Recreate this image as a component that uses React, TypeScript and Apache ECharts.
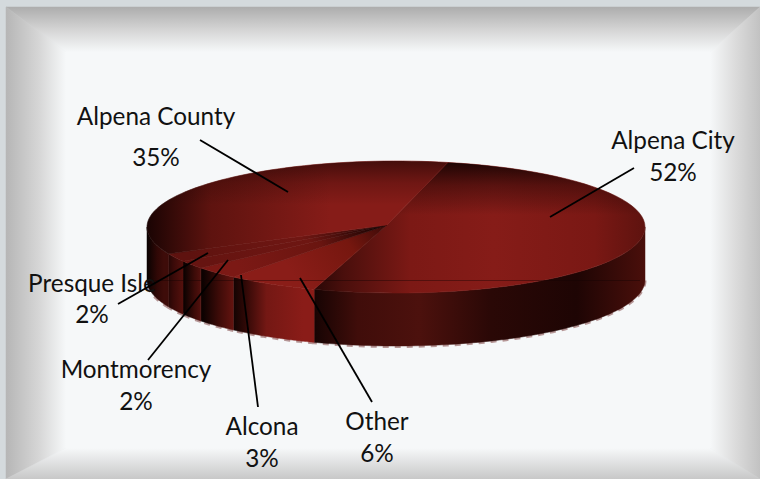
import React, { useEffect, useRef } from "react";
import * as echarts from "echarts";

const sliceNames = ["Alpena City", "Other", "Alcona", "Montmorency", "Presque Isle", "Alpena County"];
const sliceValues = [52, 6, 3, 2, 2, 35];

const CX = 396, CY = 227, RX = 249, RY = 66, DEPTH = 53, START = 12;
const rad = (d: number) => (d * Math.PI) / 180;
const px = (d: number) => CX + RX * Math.sin(rad(d));
const py = (d: number) => CY - RY * Math.cos(rad(d));
const PCX = 387, PCY = 225;

const labelLayout = [
  { x: 673, y: 155, lh: 32, from: [634, 168], to: [550, 217] },
  { x: 377, y: 436, lh: 32, from: [372, 402], to: [300, 278] },
  { x: 262, y: 441, lh: 32, from: [258, 407], to: [241, 275] },
  { x: 136, y: 384, lh: 32, from: [148, 360], to: [228, 260] },
  { x: 92, y: 298, lh: 31, from: [118, 304], to: [208, 253] },
  { x: 156, y: 136, lh: 41, from: [200, 140], to: [288, 192] },
];

const grad = (x: number, y: number, x2: number, y2: number, stops: [number, string][]) =>
  new echarts.graphic.LinearGradient(x, y, x2, y2, stops.map(([offset, color]) => ({ offset, color })), true);

const topFills = [
  () => grad(310, 0, 645, 0, [[0, "#240605"], [0.1, "#4a0f0c"], [0.3, "#7c1915"], [0.55, "#861c18"], [0.85, "#7a1814"], [1, "#5e130f"]]),
  () => grad(387, 225, 300, 285, [[0, "#3a0a08"], [0.4, "#76170f"], [1, "#8a1d18"]]),
  () => grad(375, 228, 240, 275, [[0, "#1c0403"], [0.4, "#6a1510"], [1, "#7c1915"]]),
  () => grad(375, 228, 210, 262, [[0, "#1c0403"], [0.4, "#6e1612"], [1, "#661411"]]),
  () => grad(375, 228, 190, 258, [[0, "#2a0705"], [0.4, "#701713"], [1, "#5e120f"]]),
  () => grad(147, 0, 330, 0, [[0, "#1a0403"], [0.35, "#5e130f"], [1, "#861c18"]]),
];

const shadeOverlay = [
  () => grad(0, 161, 0, 215, [[0, "rgba(15,2,1,0.9)"], [0.45, "rgba(20,3,2,0.4)"], [1, "rgba(20,3,2,0)"]]),
  null,
  null,
  null,
  null,
  () => grad(0, 161, 0, 205, [[0, "rgba(15,2,1,0.55)"], [0.5, "rgba(20,3,2,0.2)"], [1, "rgba(20,3,2,0)"]]),
];

const sideFills = [
  () => grad(303, 0, 645, 0, [[0, "#0a0201"], [0.05, "#1c0504"], [0.16, "#400d0a"], [0.34, "#4c110d"], [0.55, "#2a0806"], [0.8, "#1e0504"], [1, "#4a0f0b"]]),
  () => grad(230, 0, 303, 0, [[0, "#0a0201"], [0.2, "#2e0806"], [0.5, "#741814"], [1, "#8a1c18"]]),
  () => grad(203, 0, 234, 0, [[0, "#0c0201"], [0.5, "#3c0b08"], [1, "#651410"]]),
  () => grad(184, 0, 205, 0, [[0, "#0c0201"], [0.5, "#3c0b08"], [1, "#621411"]]),
  () => grad(162, 0, 185, 0, [[0, "#0c0201"], [0.5, "#3a0a08"], [1, "#5a120e"]]),
  () => grad(147, 0, 164, 0, [[0, "#090201"], [0.6, "#300806"], [1, "#3e0c09"]]),
];

const renderSlice = (params: any, api: any) => {
  const i = params.dataIndex;
  const total = sliceValues.reduce((a, b) => a + b, 0);
  const before = sliceValues.slice(0, i).reduce((a, b) => a + b, 0);
  const a0 = START + (before / total) * 360;
  const a1 = a0 + (api.value(0) / total) * 360;
  const topPts: number[][] = [[PCX, PCY]];
  for (let d = a0; d <= a1 + 0.001; d += (a1 - a0) / 60) topPts.push([px(d), py(d)]);
  const children: any[] = [];
  const s0 = Math.max(a0, 90), s1 = Math.min(a1, 270);
  if (s1 > s0) {
    const upper: number[][] = [], lower: number[][] = [], edge: number[][] = [];
    for (let d = s0; d <= s1 + 0.001; d += (s1 - s0) / 60) {
      upper.push([px(d), py(d)]);
      lower.unshift([px(d), py(d) + DEPTH]);
      edge.push([px(d), py(d) + DEPTH + 0.5]);
    }
    const side = sideFills[i]();
    children.push({ type: "polyline", shape: { points: edge }, style: { fill: null, stroke: "rgba(165,125,125,0.8)", lineWidth: 3, lineDash: [6, 6] } });
    children.push({ type: "polygon", shape: { points: upper.concat(lower) }, style: { fill: side, stroke: side, lineWidth: 0.5 } });
  }
  const top = topFills[i]();
  children.push({ type: "polygon", shape: { points: topPts }, style: { fill: top, stroke: top, lineWidth: 0.6 } });
  const shade = shadeOverlay[i];
  if (shade) children.push({ type: "polygon", shape: { points: topPts }, style: { fill: shade() } });
  if (i === sliceValues.length - 1) {
    children.push({ type: "line", shape: { x1: 155, y1: 280.5, x2: 640, y2: 280.5 }, style: { stroke: "rgba(20,3,2,0.4)", lineWidth: 1 } });
  }
  return { type: "group", children };
};

const renderLabel = (params: any, api: any) => {
  const i = params.dataIndex;
  const l = labelLayout[i];
  return {
    type: "group",
    children: [
      {
        type: "text",
        style: {
          x: l.x, y: l.y, text: `${sliceNames[i]}\n${api.value(0)}%`, textAlign: "center", textVerticalAlign: "middle",
          font: '24.3px Lato, "Open Sans", sans-serif', fill: "#111", lineHeight: l.lh,
        },
      },
      {
        type: "line",
        shape: { x1: l.from[0], y1: l.from[1], x2: l.to[0], y2: l.to[1] },
        style: { stroke: "#000", lineWidth: 1.8 },
      },
    ],
  };
};

const W = 760, H = 479;
const panel = { l: 6, t: 7, r: 760, b: 479 };
const inner = { l: 66, t: 52, r: 710, b: 448 };

export default function App() {
  const ref = useRef<HTMLDivElement>(null);
  useEffect(() => {
    document.body.style.margin = "0";
    const chart = echarts.init(ref.current!, null, { renderer: "svg" });
    const poly = (points: number[][], c: any) => ({ type: "polygon", silent: true, z: -1, shape: { points }, style: { fill: c, stroke: c, lineWidth: 0.5 } });
    chart.setOption({
      animation: false,
      backgroundColor: "#d4dadd",
      graphic: [
        { type: "rect", z: -1, silent: true, shape: { x: inner.l, y: inner.t, width: inner.r - inner.l, height: inner.b - inner.t }, style: { fill: "#f6f8f9" } },
        poly([[panel.l, panel.t], [panel.r, panel.t], [inner.r, inner.t], [inner.l, inner.t]], grad(0, panel.t, 0, inner.t, [[0, "#adadad"], [0.5, "#d4d4d4"], [1, "#f6f8f9"]])),
        poly([[panel.l, panel.t], [inner.l, inner.t], [inner.l, inner.b], [panel.l, panel.b]], grad(panel.l, 0, inner.l, 0, [[0, "#b6b6b6"], [0.55, "#d6d6d6"], [1, "#f6f8f9"]])),
        poly([[panel.r, panel.t], [panel.r, panel.b], [inner.r, inner.b], [inner.r, inner.t]], grad(inner.r, 0, panel.r, 0, [[0, "#f6f8f9"], [0.5, "#dcdcdc"], [1, "#c2c2c2"]])),
        poly([[panel.l, panel.b], [inner.l, inner.b], [inner.r, inner.b], [panel.r, panel.b]], grad(0, inner.b, 0, panel.b, [[0, "#f6f8f9"], [1, "#c8c8c8"]])),
      ],
      series: [
        { type: "custom", coordinateSystem: "none", data: sliceValues, renderItem: renderSlice, silent: true, z: 2 },
        { type: "custom", coordinateSystem: "none", data: sliceValues, renderItem: renderLabel, silent: true, z: 3 },
      ],
    });
    return () => chart.dispose();
  }, []);
  return <div ref={ref} style={{ width: W, height: H }} />;
}
